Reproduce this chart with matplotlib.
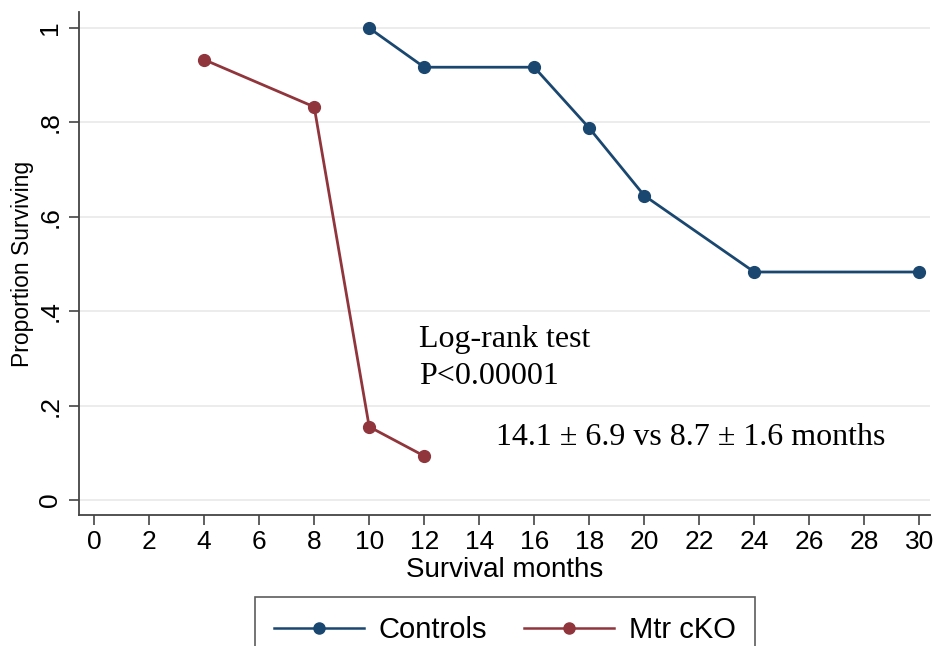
import matplotlib
matplotlib.use("Agg")
import matplotlib.pyplot as plt
from matplotlib.lines import Line2D

ctrl_x = [10, 12, 16, 18, 20, 24, 30]
ctrl_y = [1.0, 0.917, 0.917, 0.788, 0.645, 0.483, 0.483]
cko_x = [4, 8, 10, 12]
cko_y = [0.933, 0.833, 0.155, 0.093]
xticks = list(range(0, 31, 2))
yticks = [0, 0.2, 0.4, 0.6, 0.8, 1.0]
ytick_labels = ["0", ".2", ".4", ".6", ".8", "1"]

c_ctrl = "#1a476f"
c_cko = "#90353b"

plt.rcParams['font.family'] = ['Liberation Sans', 'DejaVu Sans']

fig = plt.figure(figsize=(9.35, 6.46), dpi=100)
ax = fig.add_axes([0.0845, 0.2028, 0.9105, 0.7786])

ax.plot(ctrl_x, ctrl_y, color=c_ctrl, lw=2.0, marker='o', ms=8.5, label='Controls')
ax.plot(cko_x, cko_y, color=c_cko, lw=2.0, marker='o', ms=8.5, label='Mtr cKO')

ax.set_xlim(-0.55, 30.4)
ax.set_ylim(-0.032, 1.034)
ax.set_xticks(xticks)
ax.set_xticklabels([str(t) for t in xticks], fontsize=19)
ax.set_yticks(yticks)
ax.set_yticklabels(ytick_labels, fontsize=19, rotation=90, va='center')
ax.tick_params(axis='both', direction='out', length=7, width=1.2, color='#444444')
ax.tick_params(axis='y', pad=5)
ax.tick_params(axis='x', pad=4)

for s in ['top', 'right']:
    ax.spines[s].set_visible(False)
for s in ['left', 'bottom']:
    ax.spines[s].set_color('#444444')
    ax.spines[s].set_linewidth(1.3)

ax.grid(axis='y', color='#eaeaea', lw=1.3)
ax.set_axisbelow(True)

ax.set_xlabel('Survival months', fontsize=20, labelpad=2)
ax.set_ylabel('Proportion Surviving', fontsize=16.5, labelpad=3)

serif = ['Liberation Serif', 'DejaVu Serif']
ax.text(11.8, 0.324, 'Log-rank test', fontsize=23, family=serif,
        va='baseline', ha='left')
ax.text(11.8, 0.246, 'P<0.00001', fontsize=23, family=serif,
        va='baseline', ha='left')
ax.text(14.6, 0.116, '14.1 \u00b1 6.9 vs 8.7 \u00b1 1.6 months', fontsize=23,
        family=serif, va='baseline', ha='left')

handles = [Line2D([], [], color=c_ctrl, lw=1.8, marker='o', ms=8),
           Line2D([], [], color=c_cko, lw=1.8, marker='o', ms=8)]
leg = fig.legend(handles, ['Controls', 'Mtr cKO'], loc='upper left',
                 bbox_to_anchor=(255/935, 1 - 597/646), ncol=2, fontsize=21,
                 frameon=True, fancybox=False, edgecolor='#333333',
                 handlelength=3.1, columnspacing=1.25, borderpad=0.65,
                 handletextpad=0.5, borderaxespad=0)
leg.get_frame().set_linewidth(1.2)

fig.savefig('out.png', dpi=100)
